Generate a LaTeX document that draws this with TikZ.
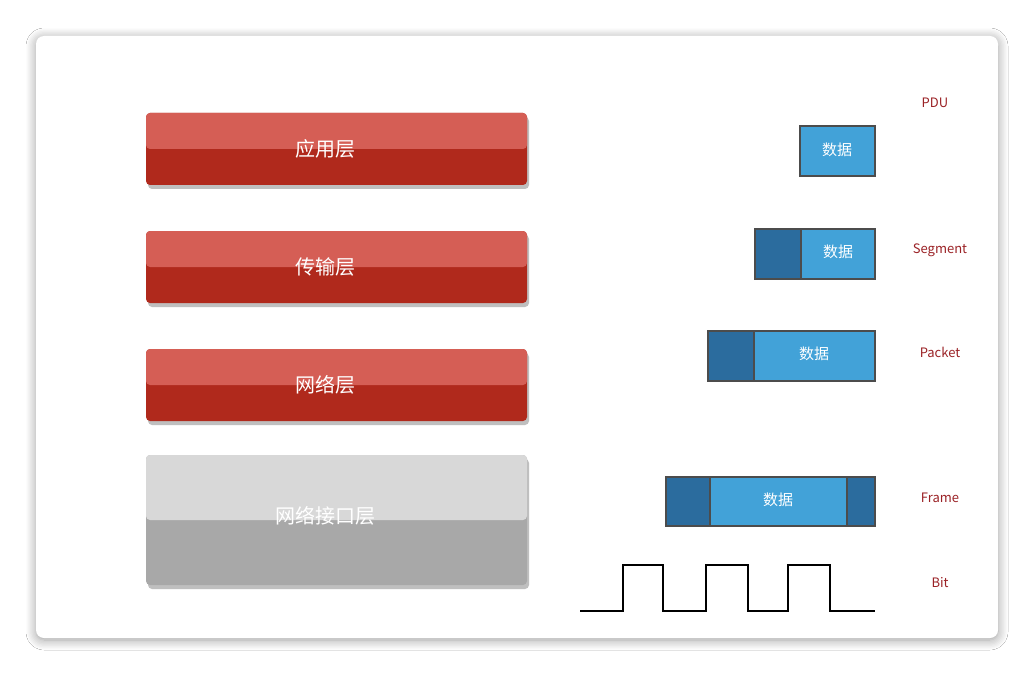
\documentclass[tikz,border=0pt]{standalone}
\usepackage{fontspec}
\setmainfont{Noto Sans CJK SC}
\usetikzlibrary{shadows.blur}
\definecolor{redtop}{HTML}{D55E55}
\definecolor{redbot}{HTML}{B0291C}
\definecolor{graytop}{HTML}{D8D8D8}
\definecolor{graybot}{HTML}{A8A8A8}
\definecolor{lblue}{HTML}{42A2D8}
\definecolor{dblue}{HTML}{2B6C9E}
\definecolor{lbl}{HTML}{9B2226}
\tikzset{
 bartext/.style={text=white,font=\fontsize{20}{24}\selectfont},
 pdutext/.style={text=lbl,font=\fontsize{13}{16}\selectfont},
 datatext/.style={text=white,font=\fontsize{15}{18}\selectfont},
 blk/.style={draw=black!70,line width=1.2pt},
}
\begin{document}
\begin{tikzpicture}[x=1pt,y=-1pt]
\useasboundingbox (0,0) rectangle (1034,674);
\fill[white] (0,0) rectangle (1034,674);
\fill[white,rounded corners=8pt,blur shadow={shadow blur steps=8,shadow xshift=0pt,shadow yshift=-2pt,shadow blur radius=10pt}] (36,36) rectangle (998,638);
% bars
\foreach \t/\b/\n/\txt in {113/185/b1/应用层,231/303/b2/传输层,349/421/b3/网络层}{
 \fill[black!25,rounded corners=4pt] (148,\t+4) rectangle (529,\b+4);
 \fill[redbot,rounded corners=4pt] (146,\t) rectangle (527,\b);
 \fill[redtop,rounded corners=4pt] (146,\t) rectangle (527,{(\t+\b)/2});
 \node[bartext] (\n) at (325,{(\t+\b)/2}) {\txt};
}
\fill[black!25,rounded corners=4pt] (148,459) rectangle (529,589);
\fill[graybot,rounded corners=4pt] (146,455) rectangle (527,585);
\fill[graytop,rounded corners=4pt] (146,455) rectangle (527,520);
\node[bartext] (b4) at (325,516) {网络接口层};
% PDU boxes
\node[pdutext] (pdu) at (935,103) {PDU};
\filldraw[blk,fill=lblue] (800,126) rectangle (875,176);
\node[datatext] (d1) at (837,150) {数据};
\filldraw[blk,fill=dblue] (755,229) rectangle (801,279);
\filldraw[blk,fill=lblue] (801,229) rectangle (875,279);
\node[datatext] (d2) at (838,252) {数据};
\node[pdutext] (seg) at (940,250) {Segment};
\filldraw[blk,fill=dblue] (708,331) rectangle (754,381);
\filldraw[blk,fill=lblue] (754,331) rectangle (875,381);
\node[datatext] (d3) at (814,354) {数据};
\node[pdutext] (pkt) at (940,352) {Packet};
\filldraw[blk,fill=dblue] (666,477) rectangle (710,526);
\filldraw[blk,fill=lblue] (710,477) rectangle (847,526);
\filldraw[blk,fill=dblue] (847,477) rectangle (875,526);
\node[datatext] (d4) at (778,500) {数据};
\node[pdutext] (frm) at (940,498) {Frame};
\draw[line width=1.6pt] (580,611) -- (623,611) -- (623,565) -- (663,565) -- (663,611) -- (706,611) -- (706,565) -- (748,565) -- (748,611) -- (788,611) -- (788,565) -- (830,565) -- (830,611) -- (875,611);
\node[pdutext] (bit) at (940,583) {Bit};
\end{tikzpicture}
\end{document}
